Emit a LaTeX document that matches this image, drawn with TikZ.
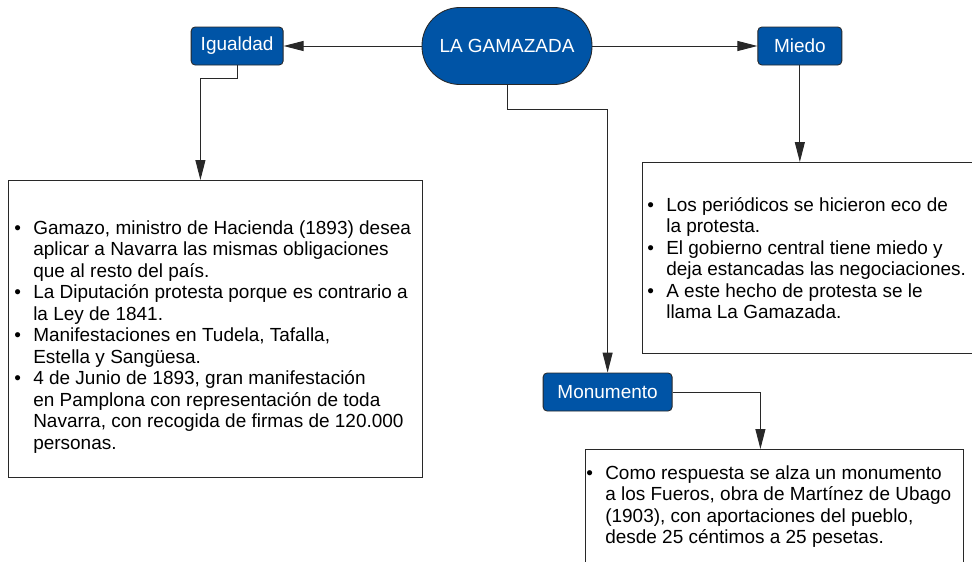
\documentclass[tikz,border=0pt]{standalone}
\usepackage{fontspec}
\setmainfont{Liberation Sans}
\usetikzlibrary{arrows.meta,positioning}
\definecolor{nodeblue}{RGB}{0,84,166}
\definecolor{linegray}{RGB}{40,40,40}
\newcommand{\bul}{\makebox[0.475cm][l]{\textbullet}}
\newcommand{\gapx}{\hspace*{0.475cm}}

\begin{document}
\begin{tikzpicture}[>={Triangle[length=0.5cm,width=0.25cm]}, font=\fontsize{13.5}{15.3}\selectfont,
  topic/.style={draw=linegray, fill=nodeblue, text=white, rounded corners=0.1cm, minimum height=0.95cm, inner sep=0pt, line width=0.6pt},
  infobox/.style={draw=linegray, line width=0.6pt, inner sep=0pt, anchor=north west},
  infotext/.style={align=left, inner sep=0pt, anchor=west},
  conn/.style={->, draw=linegray, line width=0.7pt}]
  \useasboundingbox (0,0) rectangle (24.3,-14.025);
  % concepts
  \node[topic, minimum width=4.25cm, minimum height=1.925cm, rounded corners=0.95cm] (gam) at (12.675,-1.15) {LA GAMAZADA};
  \node[topic, left=3.45cm of gam, minimum width=2.3cm] (igu) {Igualdad};
  \node[topic, right=4.125cm of gam, minimum width=2.1cm] (mie) {Miedo};
  \node[topic, minimum width=3.225cm] (mon) at (15.19,-9.8) {Monumento};
  % text boxes
  \node[infobox, minimum width=10.35cm, minimum height=7.425cm] (igubox) at (0.2,-4.5) {};
  \node[infotext] (igutext) at ([xshift=0.15cm,yshift=-0.2cm]igubox.west) {%
    \bul Gamazo, ministro de Hacienda (1893) desea\\
    \gapx aplicar a Navarra las mismas obligaciones\\
    \gapx que al resto del país.\\
    \bul La Diputación protesta porque es contrario a\\
    \gapx la Ley de 1841.\\
    \bul Manifestaciones en Tudela, Tafalla,\\
    \gapx Estella y Sangüesa.\\
    \bul 4 de Junio de 1893, gran manifestación\\
    \gapx en Pamplona con representación de toda\\
    \gapx Navarra, con recogida de firmas de 120.000\\
    \gapx personas.};
  \node[infobox, minimum width=8.35cm, minimum height=4.775cm] (miebox) at (16.05,-4.05) {};
  \node[infotext] (mietext) at ([xshift=0.125cm]miebox.west) {%
    \bul Los periódicos se hicieron eco de\\
    \gapx la protesta.\\
    \bul El gobierno central tiene miedo y\\
    \gapx deja estancadas las negociaciones.\\
    \bul A este hecho de protesta se le\\
    \gapx llama La Gamazada.};
  \node[infobox, minimum width=9.45cm, minimum height=2.85cm] (monbox) at (14.625,-11.225) {};
  \node[infotext] (montext) at ([xshift=0.025cm]monbox.west) {%
    \bul Como respuesta se alza un monumento\\
    \gapx a los Fueros, obra de Martínez de Ubago\\
    \gapx (1903), con aportaciones del pueblo,\\
    \gapx desde 25 céntimos a 25 pesetas.};
  % links
  \draw[conn] (gam) -- (igu);
  \draw[conn] (gam) -- (mie);
  \draw[conn] (igu.south) -- ++(0,-0.325) -| ([xshift=-0.375cm]igubox.north);
  \draw[conn] (gam.south) -- ++(0,-0.625) -| (mon.north);
  \draw[conn] (mie.south) -- (mie.south |- miebox.north);
  \draw[conn] (mon.east) -| ([xshift=-0.35cm]monbox.north);
\end{tikzpicture}
\end{document}
